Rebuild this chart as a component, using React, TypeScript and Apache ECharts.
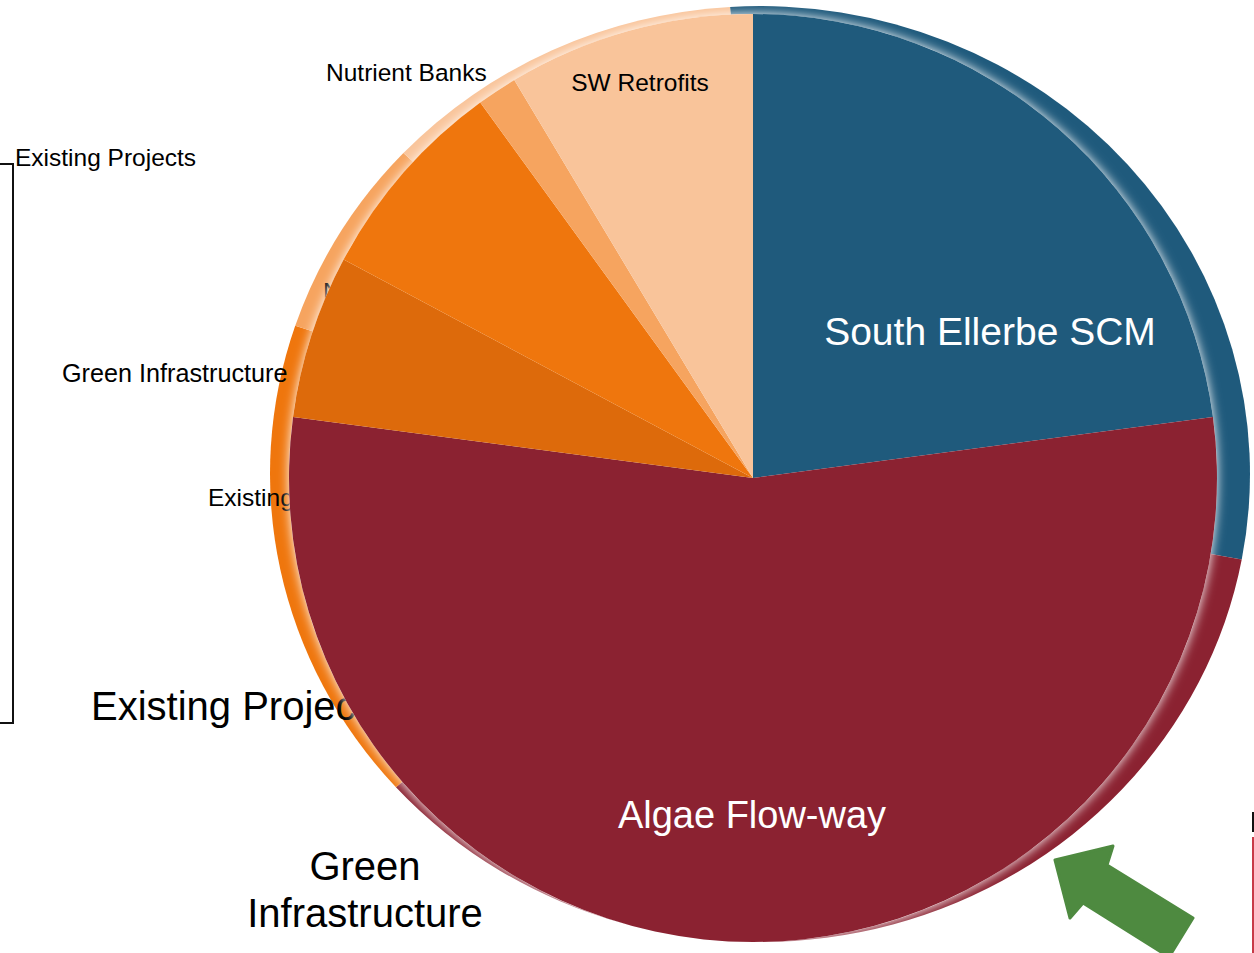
import React, { useEffect, useRef } from "react";
import * as echarts from "echarts";

const FONT = '"Liberation Sans", Arial, sans-serif';

// Front pie (foreground)
const frontNames = [
  "South Ellerbe SCM",
  "Algae Flow-way",
  "Green Infrastructure",
  "Existing Projects",
  "Nutrient Banks",
  "SW Retrofits",
];
const frontValues = [22.9, 54.2, 5.7, 7.2, 1.4, 8.6];
const frontColors = ["#1F5A7C", "#8B2231", "#DD6A0B", "#EF760D", "#F6A45F", "#F9C49A"];
const frontLabelShown = [true, true, false, false, false, true];
const frontLabelColors = ["#FFFFFF", "#FFFFFF", "#000", "#000", "#000", "#000"];

// Back pie (background, partly hidden)
const backNames = [
  "South Ellerbe SCM",
  "Algae Flow-way",
  "Existing Projects",
  "Green Infrastructure",
  "Nutrient Banks",
];
const backValues = [28.9, 35.4, 16.8, 6.9, 12.0];
const backColors = ["#1F5A7C", "#8B2231", "#EF760D", "#F6A45F", "#F9C49A"];

// Side texts (partly covered by the pie)
const sideTexts = [
  "Existing Projects",
  "Nutrient Banks",
  "Nutrient Banks",
  "Green Infrastructure",
  "Existing Projects",
];
const bigTexts = ["Existing Projects", "Green\nInfrastructure"];

// layout (positions / sizes)
const FRONT_C = [753, 478];
const FRONT_R = 464;
const BACK_CX = 760;
const BACK_CY = 474;
const BACK_R = 490;
const BACK_RY = 468;
const BACK_START = -3.5; // degrees clockwise from 12 o'clock
const frontLabelPos: (number[] | null)[] = [[990, 331], [752, 815], null, null, null, [640, 82]];
const frontLabelSize = [39, 38, 24, 24, 24, 24.5];
const sidePos = [
  [15, 157],
  [326, 72],
  [323, 291],
  [62, 373],
  [208, 497],
];
const sideSize = [24.5, 24.5, 24.5, 25.2, 24.5];

export default function App() {
  const ref = useRef<HTMLDivElement>(null);
  useEffect(() => {
    if (!ref.current) return;
    const chart = echarts.init(ref.current, null, { renderer: "svg" });
    const backTotal = backValues.reduce((a, b) => a + b, 0);
    const backStarts: number[] = [];
    let acc = BACK_START;
    backValues.forEach((v) => {
      backStarts.push(acc);
      acc += (v / backTotal) * 360;
    });
    const toRad = (d: number) => ((d - 90) * Math.PI) / 180;

    const graphics: any[] = [];
    sideTexts.forEach((t, i) => {
      graphics.push({
        type: "text",
        x: sidePos[i][0],
        y: sidePos[i][1],
        z: 2,
        silent: true,
        style: {
          text: t,
          fill: "#000",
          fontSize: sideSize[i],
          fontFamily: FONT,
          align: "left",
          verticalAlign: "middle",
        },
      });
    });
    graphics.push({
      type: "text",
      x: 91,
      y: 706,
      z: 2,
      silent: true,
      style: {
        text: bigTexts[0],
        fill: "#000",
        fontSize: 40,
        fontFamily: FONT,
        align: "left",
        verticalAlign: "middle",
      },
    });
    graphics.push({
      type: "text",
      x: 365,
      y: 889,
      z: 2,
      silent: true,
      style: {
        text: bigTexts[1],
        fill: "#000",
        fontSize: 40,
        lineHeight: 47,
        fontFamily: FONT,
        align: "center",
        verticalAlign: "middle",
      },
    });
    // bracket
    graphics.push({
      type: "polyline",
      z: 2,
      silent: true,
      shape: { points: [[0, 164], [13, 164], [13, 723], [0, 723]] },
      style: { stroke: "#111", lineWidth: 2, fill: null },
    });
    // arrow
    graphics.push({
      type: "polygon",
      z: 6,
      silent: true,
      shape: {
        points: [
          [1055, 860],
          [1113, 846],
          [1107, 865],
          [1193, 918],
          [1169, 957],
          [1083, 903],
          [1070, 918],
        ],
      },
      style: { fill: "#4E8A40", stroke: "#4E8A40", lineWidth: 3, lineJoin: "round" },
    });
    // corner marks bottom right
    graphics.push({
      type: "rect",
      z: 6,
      silent: true,
      shape: { x: 1252, y: 812, width: 2, height: 20 },
      style: { fill: "#111" },
    });
    graphics.push({
      type: "rect",
      z: 6,
      silent: true,
      shape: { x: 1252, y: 837, width: 2, height: 116 },
      style: { fill: "#C83A48" },
    });

    chart.setOption({
      animation: false,
      backgroundColor: "#FFFFFF",
      graphic: { elements: graphics },
      series: [
        {
          type: "custom",
          coordinateSystem: "none",
          z: 1,
          silent: true,
          data: backValues.map((v, i) => ({ value: v, name: backNames[i] })),
          renderItem: (params: any, api: any) => {
            const i = params.dataIndex;
            const s = backStarts[i];
            const e = s + (api.value(0) / backTotal) * 360;
            return {
              type: "sector",
              x: BACK_CX,
              y: BACK_CY,
              scaleY: BACK_RY / BACK_R,
              shape: {
                cx: 0,
                cy: 0,
                r0: 0,
                r: BACK_R,
                startAngle: toRad(s),
                endAngle: toRad(e),
                clockwise: true,
              },
              style: { fill: backColors[i] },
            };
          },
        },
        {
          type: "pie",
          z: 3,
          silent: true,
          center: FRONT_C,
          radius: FRONT_R,
          label: { show: false },
          labelLine: { show: false },
          emphasis: { disabled: true },
          data: [{ value: 1, name: "glow" }],
          itemStyle: {
            color: "#FFFFFF",
            shadowBlur: 11,
            shadowColor: "rgba(255,255,255,1)",
          },
        },
        {
          type: "pie",
          z: 4,
          silent: true,
          center: FRONT_C,
          radius: FRONT_R,
          startAngle: 90,
          clockwise: true,
          avoidLabelOverlap: false,
          emphasis: { disabled: true },
          labelLine: { show: false },
          label: {
            show: true,
            position: "inside",
            formatter: "{b}",
            fontFamily: FONT,
          },
          labelLayout: (params: any) => {
            const p = frontLabelPos[params.dataIndex];
            if (!p) return {};
            return { x: p[0], y: p[1], align: "center", verticalAlign: "middle" };
          },
          data: frontValues.map((v, i) => ({
            value: v,
            name: frontNames[i],
            itemStyle: { color: frontColors[i] },
            label: {
              show: frontLabelShown[i],
              color: frontLabelColors[i],
              fontSize: frontLabelSize[i],
            },
          })),
        },
      ],
    });
    return () => chart.dispose();
  }, []);
  return (
    <div
      ref={ref}
      style={{ position: "absolute", left: 0, top: 0, width: 1254, height: 953 }}
    />
  );
}
